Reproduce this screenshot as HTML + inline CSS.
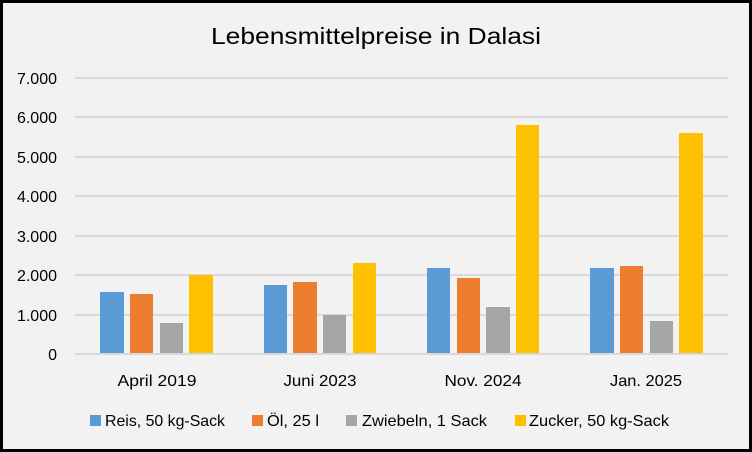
<!DOCTYPE html>
<html><head><meta charset="utf-8"><style>
html,body{margin:0;padding:0;background:#f2f2f2}
svg{display:block}
text{font-family:"Liberation Sans",sans-serif;fill:#000}
</style></head><body>
<svg width="752" height="452" viewBox="0 0 752 452" xmlns="http://www.w3.org/2000/svg">
<rect x="0" y="0" width="752" height="452" fill="#f2f2f2"/>
<rect x="1.5" y="1.5" width="749" height="449" fill="none" stroke="#000" stroke-width="3"/>
<text x="376" y="44" font-size="23" text-anchor="middle" textLength="330" lengthAdjust="spacingAndGlyphs">Lebensmittelpreise in Dalasi</text>
<g stroke="#d9d9d9" stroke-width="2">
<line x1="75" x2="728" y1="78" y2="78"/><line x1="75" x2="728" y1="117" y2="117"/>
<line x1="75" x2="728" y1="157" y2="157"/><line x1="75" x2="728" y1="196" y2="196"/>
<line x1="75" x2="728" y1="236" y2="236"/><line x1="75" x2="728" y1="275" y2="275"/>
<line x1="75" x2="728" y1="315" y2="315"/><line x1="75" x2="728" y1="354" y2="354"/>
</g>
<g font-size="16" text-anchor="end">
<text x="57" y="84">7.000</text><text x="57" y="123">6.000</text><text x="57" y="163">5.000</text>
<text x="57" y="202">4.000</text><text x="57" y="242">3.000</text><text x="57" y="281">2.000</text>
<text x="57" y="321">1.000</text><text x="57" y="360">0</text>
</g>
<g>
<rect x="100" y="292" width="24" height="61" fill="#5b9bd5"/>
<rect x="130" y="294" width="23" height="59" fill="#ed7d31"/>
<rect x="160" y="323" width="23" height="30" fill="#a5a5a5"/>
<rect x="189" y="275" width="24" height="78" fill="#ffc000"/>

<rect x="264" y="285" width="23" height="68" fill="#5b9bd5"/>
<rect x="293" y="282" width="24" height="71" fill="#ed7d31"/>
<rect x="323" y="315" width="23" height="38" fill="#a5a5a5"/>
<rect x="353" y="263" width="23" height="90" fill="#ffc000"/>

<rect x="427" y="268" width="23" height="85" fill="#5b9bd5"/>
<rect x="457" y="278" width="23" height="75" fill="#ed7d31"/>
<rect x="486" y="307" width="24" height="46" fill="#a5a5a5"/>
<rect x="516" y="125" width="23" height="228" fill="#ffc000"/>

<rect x="590" y="268" width="24" height="85" fill="#5b9bd5"/>
<rect x="620" y="266" width="23" height="87" fill="#ed7d31"/>
<rect x="650" y="321" width="23" height="32" fill="#a5a5a5"/>
<rect x="679" y="133" width="24" height="220" fill="#ffc000"/>
</g>
<g font-size="16" text-anchor="middle">
<text x="157" y="386" textLength="79" lengthAdjust="spacingAndGlyphs">April 2019</text>
<text x="320" y="386" textLength="73" lengthAdjust="spacingAndGlyphs">Juni 2023</text>
<text x="483" y="386" textLength="77" lengthAdjust="spacingAndGlyphs">Nov. 2024</text>
<text x="646" y="386" textLength="72" lengthAdjust="spacingAndGlyphs">Jan. 2025</text>
</g>
<rect x="90" y="415" width="11" height="11" fill="#5b9bd5"/>
<rect x="252" y="415" width="11" height="11" fill="#ed7d31"/>
<rect x="346" y="415" width="11" height="11" fill="#a5a5a5"/>
<rect x="515" y="415" width="11" height="11" fill="#ffc000"/>
<g font-size="16">
<text x="105" y="426" textLength="120" lengthAdjust="spacingAndGlyphs">Reis, 50 kg-Sack</text>
<text x="267" y="426" textLength="52" lengthAdjust="spacingAndGlyphs">Öl, 25 l</text>
<text x="362" y="426" textLength="125" lengthAdjust="spacingAndGlyphs">Zwiebeln, 1 Sack</text>
<text x="529" y="426" textLength="140" lengthAdjust="spacingAndGlyphs">Zucker, 50 kg-Sack</text>
</g>
</svg>
</body></html>
